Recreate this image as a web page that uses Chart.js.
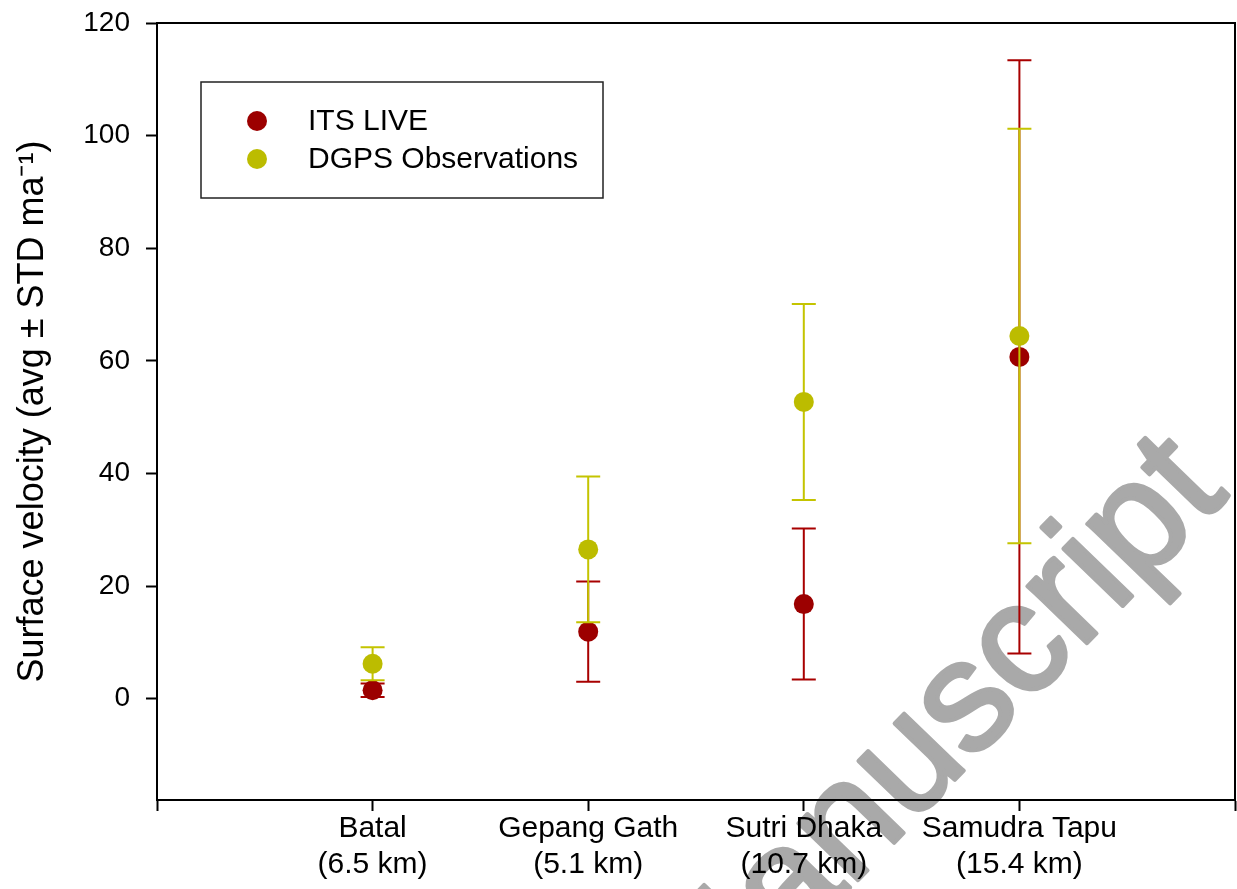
<!DOCTYPE html>
<html>
<head>
<meta charset="utf-8">
<script src="https://cdn.jsdelivr.net/npm/chart.js@4.4.1/dist/chart.umd.min.js"></script>
<style>
  html, body { margin: 0; padding: 0; background: #fff; }
  #contenedor { width: 1237px; height: 889px; position: relative; }
</style>
</head>
<body>
<div id="contenedor"><canvas id="chartVelocidad"></canvas></div>
<script>
// datos
const glaciares = ["Batal", "Gepang Gath", "Sutri Dhaka", "Samudra Tapu"];
const distancias = ["(6.5 km)", "(5.1 km)", "(10.7 km)", "(15.4 km)"];
const itsMedia = [1.5, 11.9, 16.8, 60.7];
const itsStd = [1.2, 8.9, 13.4, 52.7];
const dgpsMedia = [6.2, 26.5, 52.7, 64.4];
const dgpsStd = [2.95, 12.95, 17.4, 36.8];
const ticksY = [0, 20, 40, 60, 80, 100, 120];

const FUENTE = "'Liberation Sans', Arial, sans-serif";
const ROJO = "#9c0000";
const AMARILLO = "#bcbc00";

// marca de agua gris detras de todo
const marcaAgua = {
  id: "marcaAgua",
  beforeDraw(chart) {
    const ctx = chart.ctx;
    ctx.save();
    ctx.fillStyle = "#fff";
    ctx.fillRect(0, 0, chart.width, chart.height);
    ctx.translate(1230, 495);
    ctx.rotate(-46 * Math.PI / 180);
    ctx.font = "156px " + FUENTE;
    ctx.fillStyle = "#a9a9a9";
    ctx.strokeStyle = "#a9a9a9";
    ctx.lineWidth = 4;
    ctx.lineJoin = "round";
    ctx.textAlign = "right";
    ctx.textBaseline = "alphabetic";
    ctx.fillText("Manuscript", 0, 0);
    ctx.strokeText("Manuscript", 0, 0);
    ctx.restore();
  }
};

// barras de error (media ± std)
const barrasError = {
  id: "barrasError",
  beforeDatasetDraw(chart, args) {
    const ds = chart.data.datasets[args.index];
    const { x, y } = chart.scales;
    const ctx = chart.ctx;
    ctx.save();
    ctx.strokeStyle = ds.colorError;
    ctx.lineWidth = 2;
    ds.data.forEach((p, i) => {
      const px = x.getPixelForValue(p.x);
      const arriba = y.getPixelForValue(p.y + ds.std[i]);
      const abajo = y.getPixelForValue(p.y - ds.std[i]);
      ctx.beginPath();
      ctx.moveTo(px, arriba); ctx.lineTo(px, abajo);
      ctx.moveTo(px - 12, arriba); ctx.lineTo(px + 12, arriba);
      ctx.moveTo(px - 12, abajo); ctx.lineTo(px + 12, abajo);
      ctx.stroke();
    });
    ctx.restore();
  }
};

// marco superior/derecho y leyenda
const marcoLeyenda = {
  id: "marcoLeyenda",
  afterDraw(chart) {
    const ctx = chart.ctx;
    const { left, top, right, bottom } = chart.chartArea;
    ctx.save();
    ctx.strokeStyle = "#000";
    ctx.lineWidth = 2;
    ctx.beginPath();
    ctx.moveTo(left, top); ctx.lineTo(right, top); ctx.lineTo(right, bottom);
    ctx.stroke();

    const lx = left + 44, ly = top + 59;
    ctx.strokeStyle = "#222";
    ctx.lineWidth = 1.5;
    ctx.strokeRect(lx, ly, 402, 116);
    ctx.font = "30px " + FUENTE;
    ctx.textBaseline = "middle";
    ctx.textAlign = "left";
    chart.data.datasets.forEach((ds, i) => {
      const cy = ly + 39 + i * 38;
      ctx.fillStyle = ds.backgroundColor;
      ctx.beginPath();
      ctx.arc(lx + 56, cy, 10, 0, Math.PI * 2);
      ctx.fill();
      ctx.fillStyle = "#000";
      ctx.fillText(ds.label, lx + 107, cy + 1);
    });
    ctx.restore();
  }
};

const ctx = document.getElementById("chartVelocidad").getContext("2d");
new Chart(ctx, {
  type: "scatter",
  data: {
    datasets: [
      {
        label: "ITS LIVE",
        data: itsMedia.map((v, i) => ({ x: i + 1, y: v })),
        std: itsStd,
        backgroundColor: ROJO,
        colorError: "#a80000",
        pointRadius: 10,
        pointBorderWidth: 0,
        order: 1
      },
      {
        label: "DGPS Observations",
        data: dgpsMedia.map((v, i) => ({ x: i + 1, y: v })),
        std: dgpsStd,
        backgroundColor: AMARILLO,
        colorError: "#c4c400",
        pointRadius: 10,
        pointBorderWidth: 0,
        order: 0
      }
    ]
  },
  options: {
    responsive: true,
    maintainAspectRatio: false,
    animation: false,
    events: [],
    layout: { autoPadding: false, padding: { top: 23, right: 2, left: 0, bottom: 0 } },
    plugins: { legend: { display: false }, tooltip: { enabled: false } },
    scales: {
      x: {
        type: "linear",
        min: 0,
        max: glaciares.length + 1,
        afterBuildTicks: (s) => {
          s.ticks = Array.from({ length: glaciares.length + 2 }, (_, i) => ({ value: i }));
        },
        afterFit: (s) => { s.height = 89; s.paddingLeft = 0; s.paddingRight = 0; },
        grid: { drawOnChartArea: false, tickLength: 11, tickWidth: 2, tickColor: "#000" },
        border: { color: "#000", width: 2 },
        ticks: {
          color: "#000",
          font: { family: FUENTE, size: 30, lineHeight: 1.2 },
          padding: 0,
          maxRotation: 0,
          autoSkip: false,
          callback: (v) => (v >= 1 && v <= glaciares.length) ? [glaciares[v - 1], distancias[v - 1]] : ""
        }
      },
      y: {
        min: -18,
        max: 120,
        afterBuildTicks: (s) => { s.ticks = ticksY.map((v) => ({ value: v })); },
        afterFit: (s) => { s.width = 157; s.paddingTop = 0; s.paddingBottom = 0; },
        grid: { drawOnChartArea: false, tickLength: 11, tickWidth: 2, tickColor: "#000" },
        border: { color: "#000", width: 2 },
        ticks: { color: "#000", font: { family: FUENTE, size: 28 }, padding: 16 },
        title: {
          display: true,
          text: "Surface velocity (avg ± STD ma⁻¹)",
          color: "#000",
          font: { family: FUENTE, size: 36 },
          padding: { top: 11, bottom: 0 }
        }
      }
    }
  },
  plugins: [marcaAgua, barrasError, marcoLeyenda]
});
</script>
</body>
</html>
